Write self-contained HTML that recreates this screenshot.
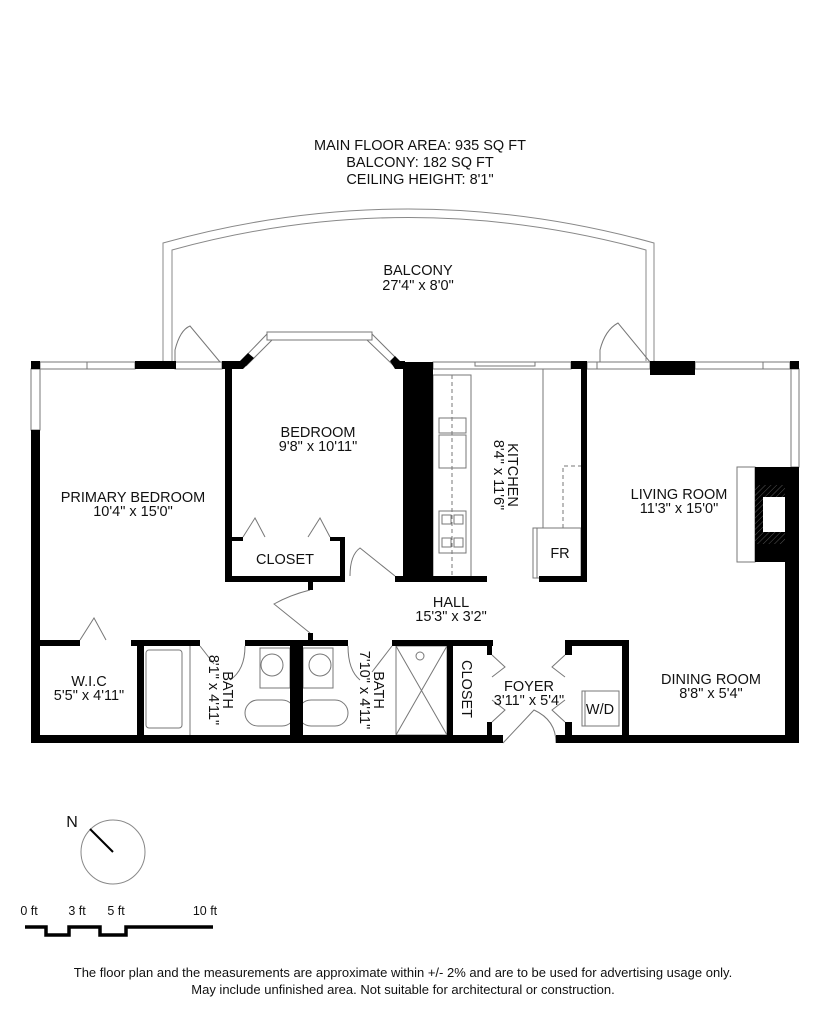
<!DOCTYPE html>
<html><head><meta charset="utf-8">
<style>
html,body{margin:0;padding:0;background:#fff;}
svg{display:block;}
text{font-family:"Liberation Sans",Arial,sans-serif;fill:#111;}
</style></head>
<body>
<svg width="825" height="1011" viewBox="0 0 825 1011" xmlns="http://www.w3.org/2000/svg">
<!-- header -->
<g font-size="14.5" text-anchor="middle">
<text x="420" y="150">MAIN FLOOR AREA: 935 SQ FT</text>
<text x="420" y="167">BALCONY: 182 SQ FT</text>
<text x="420" y="184">CEILING HEIGHT: 8'1"</text>
</g>
<!-- balcony -->
<g fill="none" stroke="#888" stroke-width="1">
<path d="M163,361 V243 Q408,175 654,243 V361"/>
<path d="M172,361 V250 Q408,185 646,250 V361"/>
</g>
<g font-size="14.5" text-anchor="middle">
<text x="418" y="275">BALCONY</text>
<text x="418" y="290">27'4" x 8'0"</text>
</g>
<!-- thin lines: windows, doors -->
<g fill="none" stroke="#777" stroke-width="1">
<rect x="40" y="362" width="95" height="7"/>
<line x1="87" y1="362" x2="87" y2="369"/>
<rect x="31" y="369" width="9" height="61"/>
<rect x="175" y="362" width="47" height="7"/>
<path d="M175,362 V350 Q180,330 190,326 L220,362"/>
<rect x="267" y="332" width="105" height="8"/>
<path d="M240,362 L267,334 M246,366 L272,340"/>
<path d="M372,334 L400,362 M367,340 L394,366"/>
<rect x="433" y="362" width="138" height="7"/>
<rect x="475" y="362" width="60" height="4"/>
<rect x="587" y="362" width="63" height="7"/>
<line x1="597" y1="362" x2="597" y2="369"/>
<path d="M600,362 V350 Q605,330 618,323 L650,362"/>
<rect x="695" y="362" width="95" height="7"/>
<line x1="763" y1="362" x2="763" y2="369"/>
<rect x="791" y="369" width="8" height="98"/>
<!-- kitchen -->
<rect x="433" y="375" width="38" height="203"/>
<line x1="452" y1="375" x2="452" y2="578" stroke-dasharray="4,3"/>
<rect x="439" y="418" width="27" height="15"/>
<rect x="439" y="435" width="27" height="33"/>
<rect x="439" y="511" width="27" height="42"/>
<rect x="442" y="515" width="9" height="9"/><rect x="454" y="515" width="9" height="9"/>
<rect x="442" y="538" width="9" height="9"/><rect x="454" y="538" width="9" height="9"/>
<line x1="543" y1="369" x2="543" y2="528"/>
<path d="M563,528 V466 H581" stroke-dasharray="4,3"/>
<rect x="533" y="528" width="48" height="50"/>
<line x1="537" y1="528" x2="537" y2="578"/>
<!-- fireplace -->
<rect x="737" y="467" width="18" height="95"/>
<!-- bedroom closet doors -->
<path d="M243,537 L255,518 L265,537 M308,537 L320,518 L330,537"/>
<path d="M350,576 Q350,555 360,548 L395,576"/>
<!-- hall door -->
<path d="M310,590 Q290,595 274,604 L310,633"/>
<!-- wic door -->
<path d="M80,640 L94,618 L106,640"/>
<!-- bath1 -->
<rect x="146" y="650" width="36" height="78" rx="3"/>
<line x1="190" y1="646" x2="190" y2="735"/>
<path d="M200,646 L214,664"/>
<path d="M245,646 Q245,670 230,680"/>
<rect x="260" y="648" width="30" height="40"/>
<circle cx="272" cy="665" r="11"/>
<rect x="245" y="700" width="50" height="26" rx="13"/>
<!-- bath2 -->
<rect x="303" y="648" width="30" height="40"/>
<circle cx="320" cy="665" r="11"/>
<rect x="298" y="700" width="50" height="26" rx="13"/>
<path d="M348,646 Q348,670 360,680"/>
<path d="M392,646 L372,672"/>
<rect x="396" y="646" width="51" height="89"/>
<path d="M396,646 L447,735 M447,646 L396,735"/>
<circle cx="420" cy="656" r="4"/>
<!-- foyer doors -->
<path d="M492,655 L505,667 L492,677 M492,722 L505,710 L492,700"/>
<path d="M565,655 L552,667 L565,677 M565,722 L552,710 L565,700"/>
<path d="M503,743 L534,710 Q556,720 556,743"/>
<rect x="582" y="691" width="37" height="35"/>
<line x1="585" y1="691" x2="585" y2="726"/>
</g>
<defs><pattern id="h" width="4" height="4" patternUnits="userSpaceOnUse" patternTransform="rotate(45)"><line x1="0" y1="0" x2="0" y2="4" stroke="#555" stroke-width="1"/></pattern></defs>
<!-- black walls -->
<g fill="#000">
<rect x="31" y="361" width="9" height="8"/>
<rect x="135" y="361" width="41" height="8"/>
<rect x="222" y="361" width="18" height="8"/>
<polygon points="232,361 240,361 248,353 254,358 243,369 232,369"/>
<polygon points="395,356 400,361 405,361 405,369 395,369 390,361"/>
<rect x="31" y="430" width="9" height="313"/>
<rect x="31" y="735" width="472" height="8"/>
<rect x="556" y="735" width="243" height="8"/>
<rect x="225" y="369" width="7" height="213"/>
<rect x="225" y="576" width="120" height="6"/>
<rect x="340" y="537" width="5" height="45"/>
<rect x="232" y="537" width="11" height="4"/>
<rect x="330" y="537" width="15" height="4"/>
<rect x="403" y="362" width="30" height="220"/>
<rect x="395" y="576" width="92" height="6"/>
<rect x="571" y="361" width="16" height="8"/>
<rect x="581" y="369" width="6" height="213"/>
<rect x="539" y="576" width="48" height="6"/>
<rect x="650" y="361" width="45" height="14"/>
<rect x="790" y="361" width="9" height="8"/>
<rect x="755" y="467" width="44" height="95"/>
<rect x="785" y="562" width="14" height="181"/>
<rect x="31" y="640" width="49" height="6"/>
<rect x="131" y="640" width="69" height="6"/>
<rect x="245" y="640" width="103" height="6"/>
<rect x="392" y="640" width="101" height="6"/>
<rect x="565" y="640" width="64" height="6"/>
<rect x="137" y="640" width="7" height="103"/>
<rect x="290" y="640" width="13" height="103"/>
<rect x="308" y="582" width="5" height="8"/>
<rect x="308" y="633" width="5" height="7"/>
<rect x="447" y="640" width="6" height="103"/>
<rect x="487" y="640" width="5" height="15"/>
<rect x="487" y="722" width="5" height="21"/>
<rect x="565" y="640" width="7" height="15"/>
<rect x="565" y="722" width="7" height="21"/>
<rect x="622" y="640" width="7" height="95"/>
</g>
<rect x="755" y="485" width="30" height="59" fill="url(#h)"/>
<rect x="763" y="497" width="22" height="35" fill="#fff"/>
<!-- room labels -->
<g font-size="14.5" text-anchor="middle">
<text x="133" y="502">PRIMARY BEDROOM</text>
<text x="133" y="516">10'4" x 15'0"</text>
<text x="318" y="437">BEDROOM</text>
<text x="318" y="451">9'8" x 10'11"</text>
<text x="285" y="564">CLOSET</text>
<text x="560" y="558">FR</text>
<text x="679" y="499">LIVING ROOM</text>
<text x="679" y="513">11'3" x 15'0"</text>
<text x="451" y="607">HALL</text>
<text x="451" y="621">15'3" x 3'2"</text>
<text x="89" y="686">W.I.C</text>
<text x="89" y="700">5'5" x 4'11"</text>
<text x="529" y="691">FOYER</text>
<text x="529" y="705">3'11" x 5'4"</text>
<text x="711" y="684">DINING ROOM</text>
<text x="711" y="698">8'8" x 5'4"</text>
<text x="600" y="714">W/D</text>
<text transform="translate(508,475) rotate(90)">KITCHEN</text>
<text transform="translate(494,475) rotate(90)">8'4" x 11'6"</text>
<text transform="translate(223,690) rotate(90)">BATH</text>
<text transform="translate(209,690) rotate(90)">8'1" x 4'11"</text>
<text transform="translate(374,690) rotate(90)">BATH</text>
<text transform="translate(360,690) rotate(90)">7'10" x 4'11"</text>
<text transform="translate(462,689) rotate(90)">CLOSET</text>
</g>
<!-- compass -->
<circle cx="113" cy="852" r="32" fill="none" stroke="#888" stroke-width="1"/>
<line x1="90" y1="829" x2="113" y2="852" stroke="#000" stroke-width="2"/>
<text x="72" y="827" font-size="16" text-anchor="middle">N</text>
<!-- scale -->
<g font-size="12.5" text-anchor="middle">
<text x="29" y="915">0 ft</text>
<text x="77" y="915">3 ft</text>
<text x="116" y="915">5 ft</text>
<text x="205" y="915">10 ft</text>
</g>
<path d="M25,927 H46 V935 H69 V927 H100 V935 H126 V927 H213" fill="none" stroke="#000" stroke-width="3.5"/>
<!-- footer -->
<g font-size="13" text-anchor="middle">
<text x="403" y="977">The floor plan and the measurements are approximate within +/- 2% and are to be used for advertising usage only.</text>
<text x="403" y="994">May include unfinished area. Not suitable for architectural or construction.</text>
</g>
</svg>
</body></html>
